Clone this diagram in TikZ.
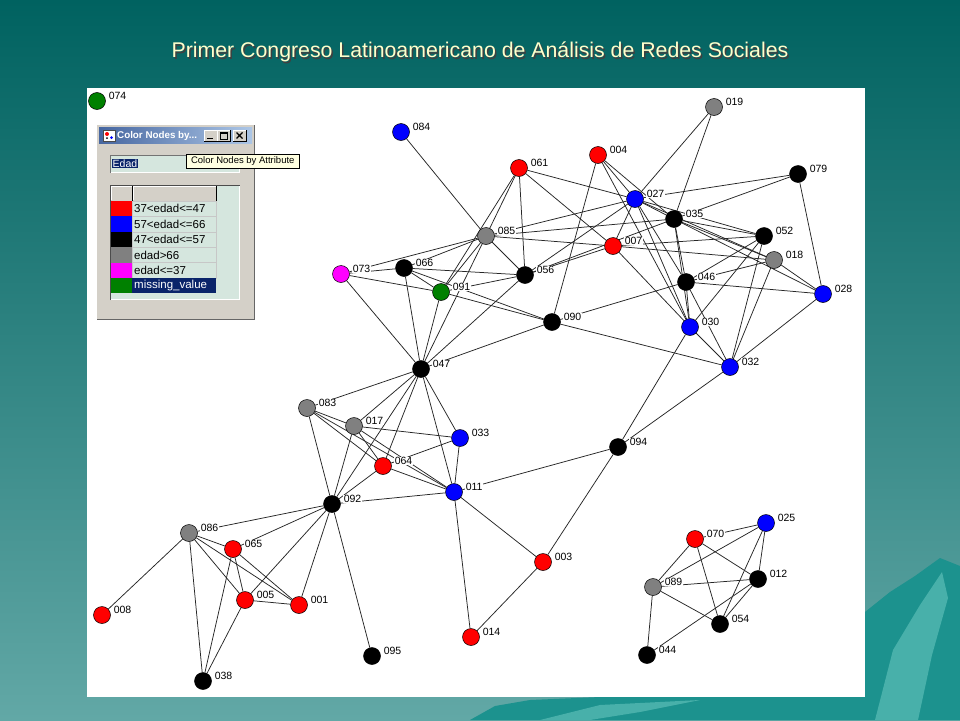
\documentclass[tikz,border=0pt]{standalone}
\usepackage{fontspec}
\setmainfont{Liberation Sans}
\pgfdeclarelayer{bgl}
\pgfdeclarelayer{edgel}
\pgfsetlayers{bgl,edgel,main}
\definecolor{tealA}{RGB}{0,98,96}
\definecolor{tealB}{RGB}{98,168,166}
\definecolor{mntA}{RGB}{28,146,142}
\definecolor{mntB}{RGB}{72,176,170}
\definecolor{winbg}{RGB}{212,208,200}
\definecolor{gridbg}{RGB}{213,230,222}
\definecolor{selnavy}{RGB}{10,36,106}
\definecolor{tipbg}{RGB}{255,255,225}
\definecolor{titley}{RGB}{255,255,204}
\definecolor{ngreen}{RGB}{0,128,0}
\definecolor{ngray}{RGB}{128,128,128}
\definecolor{nmag}{RGB}{255,0,255}
\definecolor{tbarL}{RGB}{70,102,160}
\definecolor{tbarR}{RGB}{172,198,230}
\tikzset{
  vtx/.style={circle,draw=black,line width=0.5pt,minimum size=17pt,inner sep=0pt},
  lbl/.style={anchor=west,fill=white,inner sep=0.6pt,font=\fontsize{10.5}{11}\selectfont},
  edge/.style={draw=black!85,line width=0.75pt},
  rowtxt/.style={anchor=west,inner sep=1pt,font=\fontsize{11.5}{12}\selectfont},
}
\begin{document}
\begin{tikzpicture}[x=1pt,y=-1pt]
\begin{pgfonlayer}{bgl}
  \shade[top color=tealA,bottom color=tealB] (0,0) rectangle (960,720);
  \fill[mntA] (470,720) -- (495,706) -- (530,700) -- (600,697) -- (865,697) -- (865,612)
     -- (890,592) -- (915,576) -- (940,558) -- (960,566) -- (960,720) -- cycle;
  \fill[mntB] (875,720) -- (893,650) -- (920,605) -- (942,572) -- (948,598) -- (932,655) -- (918,720) -- cycle;
  \fill[mntB] (540,720) -- (600,705) -- (700,700) -- (640,712) -- (590,720) -- cycle;
  \fill[white] (87,88) rectangle (865,697);
\end{pgfonlayer}
% title
\node[text=black!75,font=\fontsize{21.3}{24}\selectfont] at (481.5,53.5) {Primer Congreso Latinoamericano de Análisis de Redes Sociales};
\node[text=titley,font=\fontsize{21.3}{24}\selectfont] (title) at (480,52) {Primer Congreso Latinoamericano de Análisis de Redes Sociales};
% vertices
\foreach \n/\x/\y/\c in {
  074/97/101/ngreen, 084/401/132/blue, 019/714/107/ngray, 061/519/168/red,
  004/598/155/red, 079/798/174/black, 027/635/199/blue, 035/674/219/black,
  052/764/236/black, 085/486/236/ngray, 007/613/246/red, 018/774/260/ngray,
  073/341/274/nmag, 066/404/268/black, 056/525/275/black, 046/686/282/black,
  091/441/292/ngreen, 028/823/294/blue, 090/552/322/black, 030/690/327/blue,
  032/730/367/blue, 047/421/369/black, 083/307/408/ngray, 017/354/426/ngray,
  033/460/438/blue, 094/618/447/black, 064/383/466/red, 011/454/492/blue,
  092/332/504/black, 086/189/533/ngray, 065/233/549/red, 003/543/562/red,
  070/695/539/red, 025/766/523/blue, 089/653/587/ngray, 012/758/579/black,
  005/245/600/red, 001/299/605/red, 008/102/615/red, 054/720/624/black,
  014/471/637/red, 095/372/656/black, 044/647/655/black, 038/203/681/black}
{
  \node[vtx,fill=\c] (n\n) at (\x,\y) {};
  \node[lbl] (l\n) at (\x+11,\y-5) {\n};
}
% edges
\begin{pgfonlayer}{edgel}
\foreach \a/\b in {
  084/085, 019/027, 019/035,
  004/027, 004/035, 004/030, 004/090,
  061/085, 061/091, 061/056, 061/027, 061/007,
  079/027, 079/035, 079/028,
  027/085, 027/056, 027/035, 027/052, 027/018, 027/046, 027/030, 027/007,
  035/085, 035/056, 035/052, 035/018, 035/028, 035/046, 035/030,
  052/007, 052/046, 052/030, 052/032,
  018/007, 018/046, 018/028, 018/032,
  046/090, 046/028, 046/030, 046/032,
  007/085, 007/056, 007/030,
  028/032, 030/032, 030/094, 032/090, 032/094,
  085/073, 085/066, 085/091, 085/047, 085/056,
  073/066, 073/091, 073/047,
  066/056, 066/091, 066/090, 066/047,
  091/056, 091/090, 091/047, 056/047, 090/047,
  047/083, 047/017, 047/092, 047/064, 047/033, 047/011,
  083/017, 083/064, 083/011, 083/092,
  017/033, 017/064, 017/011, 017/092,
  064/033, 064/011, 064/092,
  092/011, 092/086, 092/065, 092/005, 092/001, 092/095,
  086/065, 086/005, 086/001, 086/008, 086/038,
  065/005, 065/001, 065/038, 005/001, 005/038,
  011/033, 011/094, 011/003, 011/014, 094/003, 003/014,
  070/025, 070/089, 070/054, 070/012,
  025/089, 025/012, 025/054,
  012/089, 012/054, 012/044, 089/054, 089/044}
{ \draw[edge] (n\a) -- (n\b); }
\end{pgfonlayer}
% window
\fill[winbg] (96,124) rectangle (255,320);
\draw[white,line width=1pt] (96.5,320) -- (96.5,124.5) -- (255,124.5);
\draw[black!60,line width=1pt] (97,319.5) -- (254.5,319.5) -- (254.5,125);
\shade[left color=tbarL,right color=tbarR] (99,127) rectangle (252,143);
\fill[white] (103,130) rectangle (115,141);
\draw[black!70,line width=0.4pt] (103,130) rectangle (115,141);
\fill[red] (107,134) circle (2);
\fill[blue] (111.5,137.5) circle (1.5);
\fill[black] (107,138) circle (1);
\node[anchor=west,text=white,inner sep=0pt,font=\bfseries\fontsize{9.8}{12}\selectfont] (wtitle) at (117,135.5) {Color Nodes by...};
\foreach \bx in {204,217,233}{
  \fill[winbg] (\bx,130) rectangle (\bx+13,141);
  \draw[white,line width=0.6pt] (\bx,141) -- (\bx,130) -- (\bx+13,130);
  \draw[black,line width=0.6pt] (\bx+13,130) -- (\bx+13,141) -- (\bx,141);
}
\draw[line width=1.6pt] (207,138.3) -- (213,138.3);
\draw[line width=0.6pt] (220,132.5) rectangle (227.5,139);
\draw[line width=1.4pt] (220,133) -- (227.5,133);
\draw[line width=1.2pt] (236.5,132.5) -- (242.5,138.5) (236.5,138.5) -- (242.5,132.5);
% dropdown
\fill[gridbg] (110,155) rectangle (240,173);
\draw[black!55,line width=1pt] (110.5,173) -- (110.5,155.5) -- (240,155.5);
\draw[white,line width=1pt] (239.5,156) -- (239.5,172.5) -- (111,172.5);
\node[anchor=west,fill=selnavy,text=white,inner sep=1pt,font=\fontsize{10.5}{11}\selectfont] (edad) at (111.5,163.5) {Edad};
\node[anchor=north west,draw=black,fill=tipbg,inner sep=1.5pt,line width=0.5pt,
      minimum width=113pt,minimum height=14pt,font=\fontsize{9.5}{10}\selectfont] (tip) at (186,154) {Color Nodes by Attribute};
% grid
\fill[gridbg] (110,185) rectangle (240,300);
\draw[black!70,line width=1pt] (110.5,300) -- (110.5,185.5) -- (240,185.5);
\draw[white,line width=1pt] (239.5,186) -- (239.5,299.5) -- (111,299.5);
\fill[winbg] (111,186) rectangle (216,201);
\draw[white,line width=0.6pt] (111,200) -- (111,186.5) -- (216,186.5) (133,200) -- (133,186.5);
\draw[black,line width=0.8pt] (111,201) -- (216,201) (132,186) -- (132,201) (216,186) -- (216,201);
\foreach \i/\c/\t in {0/red/{37<edad<=47},1/blue/{57<edad<=66},2/black/{47<edad<=57},3/ngray/{edad>66},4/nmag/{edad<=37}}{
  \pgfmathsetmacro{\ya}{201+15.4*\i}
  \pgfmathsetmacro{\yb}{201+15.4*(\i+1)}
  \pgfmathsetmacro{\ym}{201+15.4*(\i+0.5)}
  \fill[\c] (111,\ya) rectangle (132,\yb);
  \draw[black!22,line width=0.5pt] (132,\ya) rectangle (216,\yb);
  \node[rowtxt] (row\i) at (133,\ym) {\t};
}
\fill[ngreen] (111,278) rectangle (132,293.4);
\fill[selnavy] (132,278) rectangle (216,293.4);
\node[rowtxt,text=white] (row5) at (133,285.7) {missing\_value};
\end{tikzpicture}
\end{document}
